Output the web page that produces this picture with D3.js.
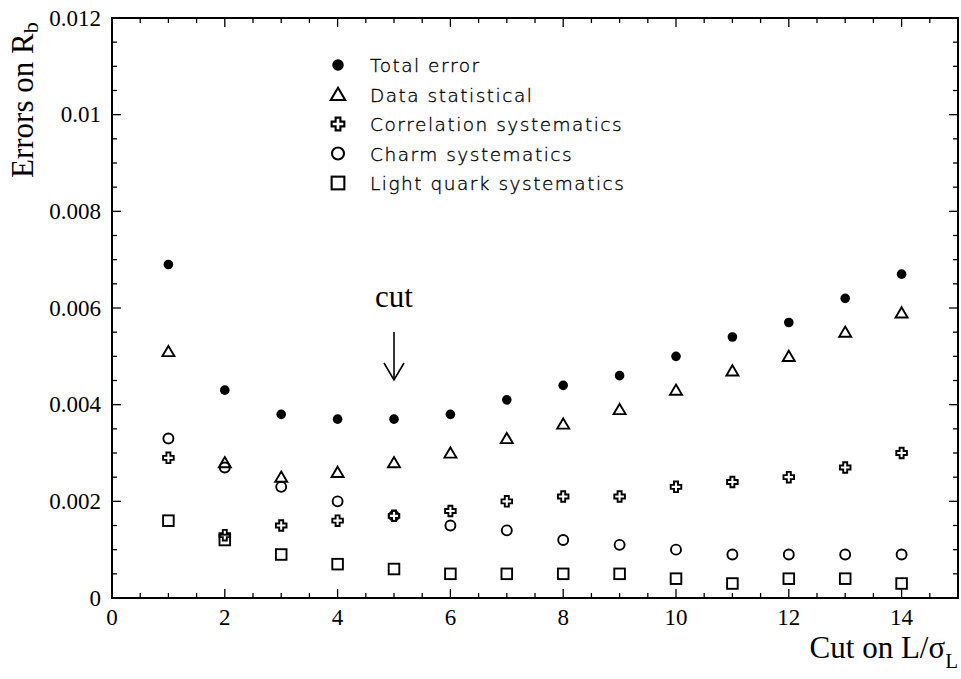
<!DOCTYPE html>
<html><head><meta charset="utf-8">
<script src="https://cdn.jsdelivr.net/npm/d3@7"></script>
<style>body{margin:0;background:#fff}</style>
</head><body>
<script>
const cuts = [1,2,3,4,5,6,7,8,9,10,11,12,13,14];
const totalError = [0.0069,0.0043,0.0038,0.0037,0.0037,0.0038,0.0041,0.0044,0.0046,0.0050,0.0054,0.0057,0.0062,0.0067];
const dataStat = [0.0051,0.0028,0.0025,0.0026,0.0028,0.0030,0.0033,0.0036,0.0039,0.0043,0.0047,0.0050,0.0055,0.0059];
const corrSyst = [0.0029,0.0013,0.0015,0.0016,0.0017,0.0018,0.0020,0.0021,0.0021,0.0023,0.0024,0.0025,0.0027,0.0030];
const charmSyst = [0.0033,0.0027,0.0023,0.0020,0.0017,0.0015,0.0014,0.0012,0.0011,0.0010,0.0009,0.0009,0.0009,0.0009];
const lightSyst = [0.0016,0.0012,0.0009,0.0007,0.0006,0.0005,0.0005,0.0005,0.0005,0.0004,0.0003,0.0004,0.0004,0.0003];
const seriesNames = ["Total error","Data statistical","Correlation systematics","Charm systematics","Light quark systematics"];
const xTicks = [0,2,4,6,8,10,12,14];
const yTicks = [0,0.002,0.004,0.006,0.008,0.01,0.012];
const yTickLabels = ["0","0.002","0.004","0.006","0.008","0.01","0.012"];
const cutPosition = 5;

const W=961,H=679;
const L=112,R=958,T=18,B=598;
const svg=d3.select("body").append("svg").attr("width",W).attr("height",H);
const x=d3.scaleLinear().domain([0,15]).range([L,R]);
const y=d3.scaleLinear().domain([0,0.012]).range([B,T]);

const serif="Liberation Serif, Times New Roman, serif";
const sans="DejaVu Sans, sans-serif";

// ticks
const g=svg.append("g").attr("stroke","#000").attr("stroke-width",1.3);
d3.range(0,15.01,0.5).forEach(v=>{
  const len = (v%2===0)?9:5;
  g.append("line").attr("x1",x(v)).attr("x2",x(v)).attr("y1",B).attr("y2",B-len);
  g.append("line").attr("x1",x(v)).attr("x2",x(v)).attr("y1",T).attr("y2",T+len);
});
d3.range(0,0.01201,0.0005).forEach(v=>{
  const major=Math.abs(Math.round(v/0.002)*0.002-v)<1e-9;
  const len = major?9:5;
  g.append("line").attr("y1",y(v)).attr("y2",y(v)).attr("x1",L).attr("x2",L+len);
  g.append("line").attr("y1",y(v)).attr("y2",y(v)).attr("x1",R).attr("x2",R-len);
});
svg.append("rect").attr("x",L).attr("y",T).attr("width",R-L).attr("height",B-T)
  .attr("fill","none").attr("stroke","#000").attr("stroke-width",2);

// tick labels
xTicks.forEach(v=>{
  svg.append("text").attr("x",x(v)).attr("y",B+27).attr("text-anchor","middle")
    .style("font-family",serif).attr("font-size",23).text(v);
});
yTicks.forEach((v,i)=>{
  svg.append("text").attr("x",L-11).attr("y",y(v)+7.5).attr("text-anchor","end")
    .style("font-family",serif).attr("font-size",23).text(yTickLabels[i]);
});

// axis titles
const yt=svg.append("text").attr("transform",`translate(33,178) rotate(-90)`)
  .style("font-family",serif).attr("font-size",31);
yt.append("tspan").text("Errors on R");
yt.append("tspan").attr("font-size",22).attr("dy",5).text("b");

const xt=svg.append("text").attr("x",R).attr("y",658).attr("text-anchor","end")
  .style("font-family",serif).attr("font-size",31);
xt.append("tspan").text("Cut on L/σ");
xt.append("tspan").attr("font-size",21).attr("dy",10).text("L");

// cut arrow
svg.append("text").attr("x",x(cutPosition)).attr("y",307).attr("text-anchor","middle")
  .style("font-family",serif).attr("font-size",31).text("cut");
const ag=svg.append("g").attr("stroke","#000").attr("stroke-width",1.6).attr("fill","none");
ag.append("line").attr("x1",x(cutPosition)).attr("x2",x(cutPosition)).attr("y1",332).attr("y2",380);
ag.append("polyline").attr("points",`${x(cutPosition)-10},363 ${x(cutPosition)},380 ${x(cutPosition)+10},363`);

// markers
function marker(sel,type,s){
  const sw=1.9*Math.min(s,1.1);
  if(type===0){sel.append("circle").attr("r",4.8*s).attr("fill","#000");}
  else if(type===1){sel.append("path").attr("d",`M0,${-5.6*s}L${6*s},${4.6*s}L${-6*s},${4.6*s}Z`).attr("fill","none").attr("stroke","#000").attr("stroke-width",sw);}
  else if(type===2){const a=2*s,b=5.3*s;sel.append("path").attr("d",`M${-a},${-b}H${a}V${-a}H${b}V${a}H${a}V${b}H${-a}V${a}H${-b}V${-a}H${-a}Z`).attr("fill","none").attr("stroke","#000").attr("stroke-width",sw);}
  else if(type===3){sel.append("circle").attr("r",5*s).attr("fill","none").attr("stroke","#000").attr("stroke-width",sw);}
  else {sel.append("rect").attr("x",-5.3*s).attr("y",-5.3*s).attr("width",10.6*s).attr("height",10.6*s).attr("fill","none").attr("stroke","#000").attr("stroke-width",sw);}
}
const allSeries=[totalError,dataStat,corrSyst,charmSyst,lightSyst];
[4,3,2,1,0].forEach(si=>{
  cuts.forEach((c,i)=>{
    const p=svg.append("g").attr("transform",`translate(${x(c)},${y(allSeries[si][i])})`);
    marker(p,si,1);
  });
});

// legend
seriesNames.forEach((n,i)=>{
  const yy=65+i*29.5;
  const p=svg.append("g").attr("transform",`translate(338,${yy})`);
  marker(p,i,1.2);
  svg.append("text").attr("x",370).attr("y",yy+7).style("font-family",sans).attr("font-weight",200)
    .attr("fill","#000").attr("stroke","#000").attr("stroke-width",0.35)
    .attr("font-size",18.5).attr("letter-spacing",1.5).text(n);
});
</script>
</body></html>
